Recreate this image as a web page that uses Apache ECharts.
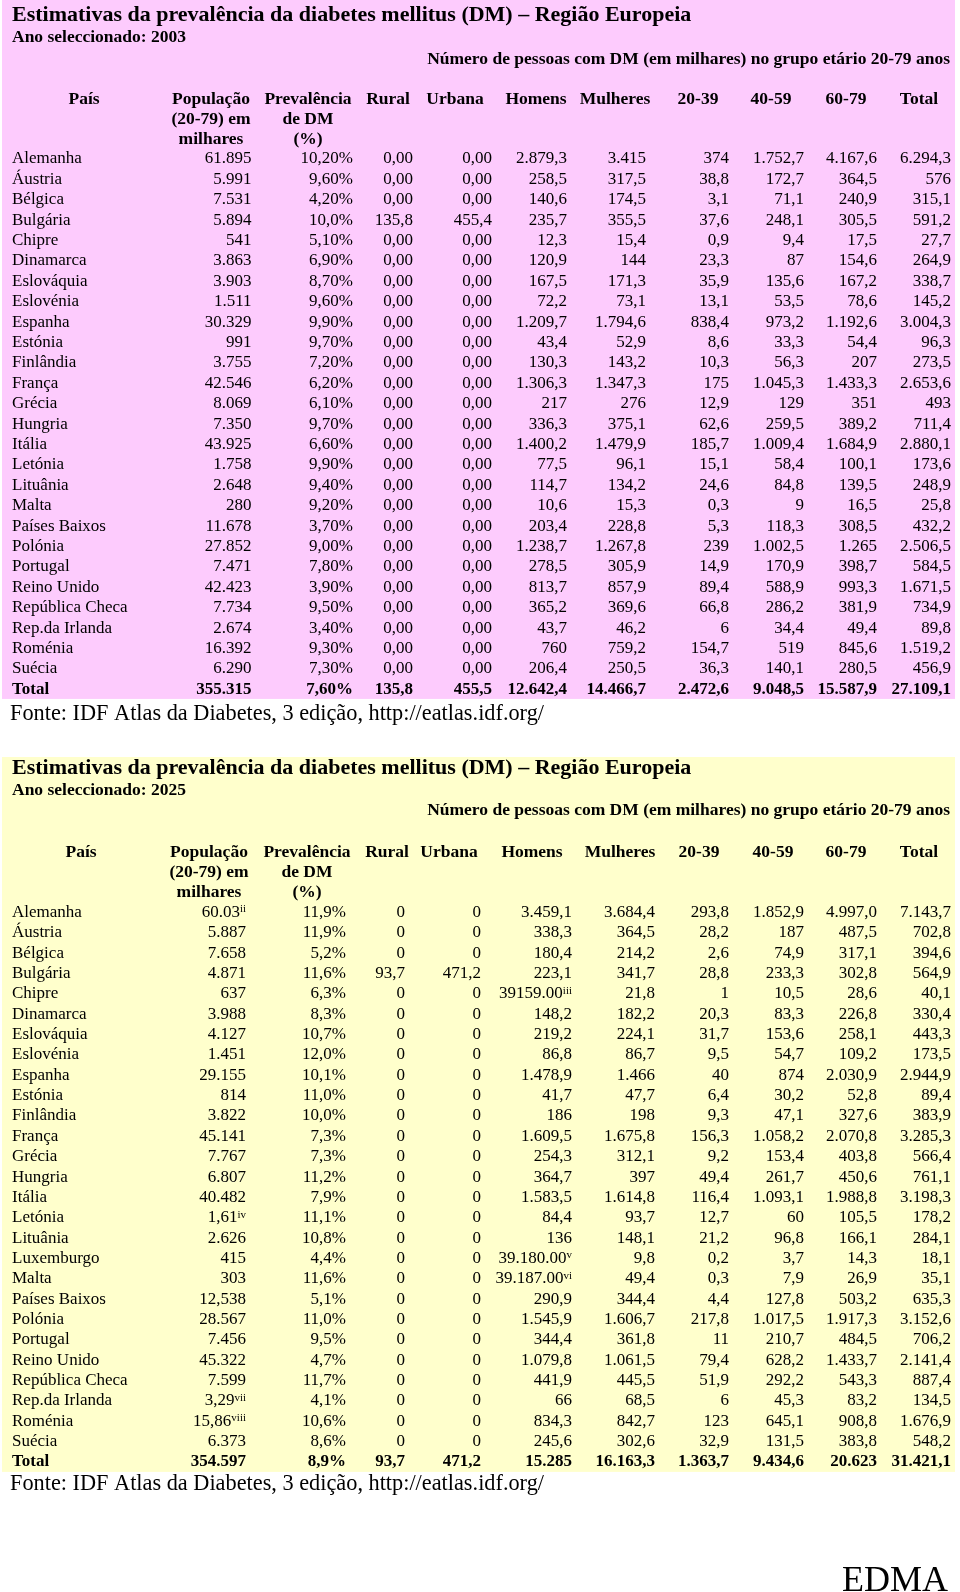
<!DOCTYPE html>
<html>
<head>
<meta charset="utf-8">
<script src="https://cdn.jsdelivr.net/npm/echarts@6.0.0/dist/echarts.min.js"></script>
<style>
html, body { margin: 0; padding: 0; background: #fff; }
#echarts { width: 960px; height: 1592px; }
</style>
</head>
<body>
<div id="echarts"></div>
<script>
const chartDom = document.getElementById('echarts');
const myChart = echarts.init(chartDom);

// cabeçalhos (3 linhas por coluna)
const headers = [
    ['País', '', ''], ['População', '(20-79) em', 'milhares'], ['Prevalência', 'de DM', '(%)'],
    ['Rural', '', ''], ['Urbana', '', ''], ['Homens', '', ''], ['Mulheres', '', ''],
    ['20-39', '', ''], ['40-59', '', ''], ['60-79', '', ''], ['Total', '', '']
];
const titulo = 'Estimativas da prevalência da diabetes mellitus (DM) – Região Europeia';
const grupoEtario = 'Número de pessoas com DM (em milhares) no grupo etário 20-79 anos';
const fonte = 'Fonte: IDF Atlas da Diabetes, 3 edição, http://eatlas.idf.org/';

// ---- 2003 ----
const paises2003 = ['Alemanha','Áustria','Bélgica','Bulgária','Chipre','Dinamarca','Eslováquia','Eslovénia','Espanha','Estónia','Finlândia','França','Grécia','Hungria','Itália','Letónia','Lituânia','Malta','Países Baixos','Polónia','Portugal','Reino Unido','República Checa','Rep.da Irlanda','Roménia','Suécia'];
const pop2003 = ['61.895','5.991','7.531','5.894','541','3.863','3.903','1.511','30.329','991','3.755','42.546','8.069','7.350','43.925','1.758','2.648','280','11.678','27.852','7.471','42.423','7.734','2.674','16.392','6.290'];
const prev2003 = ['10,20%','9,60%','4,20%','10,0%','5,10%','6,90%','8,70%','9,60%','9,90%','9,70%','7,20%','6,20%','6,10%','9,70%','6,60%','9,90%','9,40%','9,20%','3,70%','9,00%','7,80%','3,90%','9,50%','3,40%','9,30%','7,30%'];
const rural2003 = ['0,00','0,00','0,00','135,8','0,00','0,00','0,00','0,00','0,00','0,00','0,00','0,00','0,00','0,00','0,00','0,00','0,00','0,00','0,00','0,00','0,00','0,00','0,00','0,00','0,00','0,00'];
const urbana2003 = ['0,00','0,00','0,00','455,4','0,00','0,00','0,00','0,00','0,00','0,00','0,00','0,00','0,00','0,00','0,00','0,00','0,00','0,00','0,00','0,00','0,00','0,00','0,00','0,00','0,00','0,00'];
const homens2003 = ['2.879,3','258,5','140,6','235,7','12,3','120,9','167,5','72,2','1.209,7','43,4','130,3','1.306,3','217','336,3','1.400,2','77,5','114,7','10,6','203,4','1.238,7','278,5','813,7','365,2','43,7','760','206,4'];
const mulheres2003 = ['3.415','317,5','174,5','355,5','15,4','144','171,3','73,1','1.794,6','52,9','143,2','1.347,3','276','375,1','1.479,9','96,1','134,2','15,3','228,8','1.267,8','305,9','857,9','369,6','46,2','759,2','250,5'];
const idade2039_2003 = ['374','38,8','3,1','37,6','0,9','23,3','35,9','13,1','838,4','8,6','10,3','175','12,9','62,6','185,7','15,1','24,6','0,3','5,3','239','14,9','89,4','66,8','6','154,7','36,3'];
const idade4059_2003 = ['1.752,7','172,7','71,1','248,1','9,4','87','135,6','53,5','973,2','33,3','56,3','1.045,3','129','259,5','1.009,4','58,4','84,8','9','118,3','1.002,5','170,9','588,9','286,2','34,4','519','140,1'];
const idade6079_2003 = ['4.167,6','364,5','240,9','305,5','17,5','154,6','167,2','78,6','1.192,6','54,4','207','1.433,3','351','389,2','1.684,9','100,1','139,5','16,5','308,5','1.265','398,7','993,3','381,9','49,4','845,6','280,5'];
const total2003 = ['6.294,3','576','315,1','591,2','27,7','264,9','338,7','145,2','3.004,3','96,3','273,5','2.653,6','493','711,4','2.880,1','173,6','248,9','25,8','432,2','2.506,5','584,5','1.671,5','734,9','89,8','1.519,2','456,9'];
const somas2003 = ['Total','355.315','7,60%','135,8','455,5','12.642,4','14.466,7','2.472,6','9.048,5','15.587,9','27.109,1'];

// ---- 2025 ---- (^ marca as notas em expoente)
const paises2025 = ['Alemanha','Áustria','Bélgica','Bulgária','Chipre','Dinamarca','Eslováquia','Eslovénia','Espanha','Estónia','Finlândia','França','Grécia','Hungria','Itália','Letónia','Lituânia','Luxemburgo','Malta','Países Baixos','Polónia','Portugal','Reino Unido','República Checa','Rep.da Irlanda','Roménia','Suécia'];
const pop2025 = ['60.03^ii','5.887','7.658','4.871','637','3.988','4.127','1.451','29.155','814','3.822','45.141','7.767','6.807','40.482','1,61^iv','2.626','415','303','12,538','28.567','7.456','45.322','7.599','3,29^vii','15,86^viii','6.373'];
const prev2025 = ['11,9%','11,9%','5,2%','11,6%','6,3%','8,3%','10,7%','12,0%','10,1%','11,0%','10,0%','7,3%','7,3%','11,2%','7,9%','11,1%','10,8%','4,4%','11,6%','5,1%','11,0%','9,5%','4,7%','11,7%','4,1%','10,6%','8,6%'];
const rural2025 = ['0','0','0','93,7','0','0','0','0','0','0','0','0','0','0','0','0','0','0','0','0','0','0','0','0','0','0','0'];
const urbana2025 = ['0','0','0','471,2','0','0','0','0','0','0','0','0','0','0','0','0','0','0','0','0','0','0','0','0','0','0','0'];
const homens2025 = ['3.459,1','338,3','180,4','223,1','39159.00^iii','148,2','219,2','86,8','1.478,9','41,7','186','1.609,5','254,3','364,7','1.583,5','84,4','136','39.180.00^v','39.187.00^vi','290,9','1.545,9','344,4','1.079,8','441,9','66','834,3','245,6'];
const mulheres2025 = ['3.684,4','364,5','214,2','341,7','21,8','182,2','224,1','86,7','1.466','47,7','198','1.675,8','312,1','397','1.614,8','93,7','148,1','9,8','49,4','344,4','1.606,7','361,8','1.061,5','445,5','68,5','842,7','302,6'];
const idade2039_2025 = ['293,8','28,2','2,6','28,8','1','20,3','31,7','9,5','40','6,4','9,3','156,3','9,2','49,4','116,4','12,7','21,2','0,2','0,3','4,4','217,8','11','79,4','51,9','6','123','32,9'];
const idade4059_2025 = ['1.852,9','187','74,9','233,3','10,5','83,3','153,6','54,7','874','30,2','47,1','1.058,2','153,4','261,7','1.093,1','60','96,8','3,7','7,9','127,8','1.017,5','210,7','628,2','292,2','45,3','645,1','131,5'];
const idade6079_2025 = ['4.997,0','487,5','317,1','302,8','28,6','226,8','258,1','109,2','2.030,9','52,8','327,6','2.070,8','403,8','450,6','1.988,8','105,5','166,1','14,3','26,9','503,2','1.917,3','484,5','1.433,7','543,3','83,2','908,8','383,8'];
const total2025 = ['7.143,7','702,8','394,6','564,9','40,1','330,4','443,3','173,5','2.944,9','89,4','383,9','3.285,3','566,4','761,1','3.198,3','178,2','284,1','18,1','35,1','635,3','3.152,6','706,2','2.141,4','887,4','134,5','1.676,9','548,2'];
const somas2025 = ['Total','354.597','8,9%','93,7','471,2','15.285','16.163,3','1.363,7','9.434,6','20.623','31.421,1'];

const font = 'Liberation Serif';

// dx / dy: pequenos desvios do texto dentro da célula (via padding)
function lbl(align, side, dx, dy, size, weight) {
    const pos = { left: 'insideLeft', right: 'insideRight', center: 'inside' }[align];
    const top = Math.max(0, dy), bottom = Math.max(0, -dy);
    let pad;
    if (align === 'left') pad = [top, 0, bottom, side];
    else if (align === 'right') pad = [top, side, bottom, 0];
    else pad = [top, Math.max(0, -2 * dx), bottom, Math.max(0, 2 * dx)];
    return {
        show: true, position: pos, align: align, verticalAlign: 'middle',
        padding: pad, overflow: 'none', lineOverflow: 'none',
        fontFamily: font, fontSize: size, fontWeight: weight, color: '#000',
        rich: {
            n: { fontFamily: font, fontSize: size, fontWeight: weight, color: '#000' },
            s: { fontFamily: font, fontSize: 11, color: '#000', verticalAlign: 'top', lineHeight: 9 }
        }
    };
}
function rich(v) {
    const p = v.split('^');
    return p.length > 1 ? '{n|' + p[0] + '}{s|' + p[1] + '}' : v;
}

function tabela(cfg) {
    const cols = cfg.widths.map((w, i) => ({ value: 'c' + i, size: w }));
    const nRows = cfg.paises.length;
    const sizes = [cfg.titleH, 19, cfg.numH, cfg.gapH, 20, 20, 20];
    for (let i = 0; i <= nRows; i++) sizes.push(cfg.rowH);
    const rows = sizes.map((h, i) => ({ value: 'r' + i, size: h }));
    const d = cfg.dy;
    const data = [];
    data.push({ coord: [['c0', 'c10'], 'r0'], mergeCells: true, value: titulo, label: lbl('left', 10, 0, d.titulo, 22, 'bold') });
    data.push({ coord: [['c0', 'c10'], 'r1'], mergeCells: true, value: cfg.ano, label: lbl('left', 10, 0, d.ano, 17.5, 'bold') });
    data.push({ coord: [['c0', 'c10'], 'r2'], mergeCells: true, value: grupoEtario, label: lbl('right', 5, 0, d.num, 17.5, 'bold') });
    data.push({ coord: [['c0', 'c10'], 'r3'], mergeCells: true, value: '' });
    headers.forEach((h, c) => {
        h.forEach((t, k) => {
            data.push({ coord: ['c' + c, 'r' + (4 + k)], value: t, label: lbl('center', 0, cfg.shift[c], d.cab, 17.5, 'bold') });
        });
    });
    const colunas = [cfg.paises].concat(cfg.valores);
    for (let r = 0; r < nRows; r++) {
        colunas.forEach((col, c) => {
            data.push({
                coord: ['c' + c, 'r' + (7 + r)], value: rich(col[r]),
                label: c === 0 ? lbl('left', 10, 0, d.dados, 17, 'normal') : lbl('right', cfg.pad[c], 0, d.dados, 17, 'normal')
            });
        });
    }
    cfg.somas.forEach((v, c) => {
        data.push({
            coord: ['c' + c, 'r' + (7 + nRows)], value: v,
            label: c === 0 ? lbl('left', 10, 0, d.dados, 17, 'bold') : lbl('right', cfg.pad[c], 0, d.dados, 17, 'bold')
        });
    });
    return {
        left: 2, top: cfg.top,
        width: cfg.widths.reduce((a, b) => a + b, 0),
        height: sizes.reduce((a, b) => a + b, 0),
        x: { show: false, data: cols },
        y: { show: false, data: rows },
        backgroundStyle: { color: cfg.cor, borderWidth: 0 },
        body: {
            data: data,
            itemStyle: { color: cfg.cor, borderWidth: 0 },
            label: lbl('center', 0, 0, 0, 17, 'normal')
        }
    };
}

const rodape = { fontFamily: font, fontSize: 22.3, fontWeight: 'normal', color: '#000' };
const option = {
    backgroundColor: '#fff',
    title: [
        { text: fonte, left: 10, top: 703, padding: 0, textStyle: rodape },
        { text: fonte, left: 10, top: 1473, padding: 0, textStyle: rodape },
        { text: 'EDMA', right: 12, top: 1564, padding: 0, textStyle: { fontFamily: font, fontSize: 36, fontWeight: 'normal', color: '#000' } }
    ],
    matrix: [
        tabela({
            top: 0, cor: '#FDCBFD', ano: 'Ano seleccionado: 2003',
            titleH: 28, numH: 23, gapH: 18, rowH: 20.4,
            dy: { titulo: 4, ano: 0, num: 3, cab: 2, dados: 2.5 },
            widths: [164, 91, 100, 60, 79, 75, 79, 83, 75, 73, 74],
            pad: [0, 5.5, 4, 4, 4, 4, 4, 4, 4, 4, 4],
            shift: [0, -0.5, 1, 1, -1.5, 2.5, 4.5, 6.5, 0.5, 1.5, 1],
            paises: paises2003,
            valores: [pop2003, prev2003, rural2003, urbana2003, homens2003, mulheres2003, idade2039_2003, idade4059_2003, idade6079_2003, total2003],
            somas: somas2003
        }),
        tabela({
            top: 757, cor: '#FFFFCC', ano: 'Ano seleccionado: 2025',
            titleH: 24, numH: 22, gapH: 20, rowH: 20.35,
            dy: { titulo: 0, ano: 0, num: 1, cab: 1, dados: 2 },
            widths: [162, 86, 100, 59, 76, 91, 83, 74, 75, 73, 74],
            pad: [0, 4, 4, 4, 4, 4, 4, 4, 4, 4, 4],
            shift: [-2, 2, 7, 7.5, 2, 1.5, 2.5, 3, 2.5, 1.5, 1],
            paises: paises2025,
            valores: [pop2025, prev2025, rural2025, urbana2025, homens2025, mulheres2025, idade2039_2025, idade4059_2025, idade6079_2025, total2025],
            somas: somas2025
        })
    ]
};
option && myChart.setOption(option);
</script>
</body>
</html>
